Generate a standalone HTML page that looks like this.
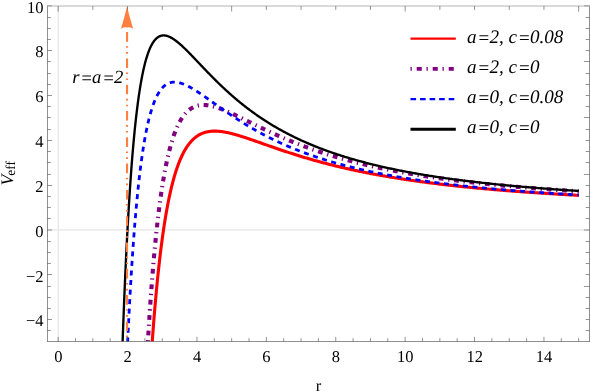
<!DOCTYPE html>
<html><head><meta charset="utf-8"><title>Veff plot</title>
<style>html,body{margin:0;padding:0;background:#fff;overflow:hidden}svg{display:block;will-change:transform}text{font-family:"Liberation Serif",serif;fill:#000;text-rendering:geometricPrecision}</style></head><body>
<svg width="591" height="391" viewBox="0 0 591 391">
<rect width="591" height="391" fill="#fff"/>
<defs><clipPath id="cp"><rect x="47.50" y="6.00" width="542.00" height="335.50"/></clipPath></defs>
<g stroke="#e6e6e6" stroke-width="1.2" fill="none">
<line x1="58.25" y1="6.00" x2="58.25" y2="341.50"/>
<line x1="47.50" y1="229.81" x2="589.50" y2="229.81"/>
</g>
<g clip-path="url(#cp)" fill="none" stroke-linejoin="round">
<path d="M150.06 374.23 L150.16 372.65 L150.26 371.06 L150.36 369.45 L150.46 367.83 L150.57 366.20 L150.67 364.55 L150.78 362.90 L150.89 361.23 L151.00 359.55 L151.11 357.86 L151.23 356.15 L151.34 354.44 L151.46 352.72 L151.58 350.99 L151.70 349.25 L151.82 347.50 L151.94 345.75 L152.07 343.98 L152.19 342.21 L152.32 340.43 L152.45 338.64 L152.58 336.85 L152.72 335.05 L152.85 333.25 L152.99 331.44 L153.12 329.62 L153.26 327.80 L153.40 325.98 L153.54 324.15 L153.69 322.32 L153.83 320.48 L153.98 318.65 L154.13 316.81 L154.28 314.96 L154.43 313.12 L154.59 311.28 L154.74 309.43 L154.90 307.58 L155.06 305.73 L155.22 303.89 L155.38 302.04 L155.54 300.19 L155.71 298.35 L155.87 296.50 L156.04 294.66 L156.21 292.82 L156.38 290.98 L156.56 289.15 L156.73 287.31 L156.91 285.49 L157.09 283.66 L157.27 281.84 L157.45 280.02 L157.63 278.21 L157.82 276.40 L158.00 274.59 L158.19 272.80 L158.38 271.00 L158.57 269.22 L158.77 267.44 L158.96 265.66 L159.16 263.89 L159.36 262.13 L159.56 260.38 L159.76 258.63 L159.96 256.89 L160.17 255.16 L160.37 253.44 L160.58 251.73 L160.79 250.02 L161.00 248.33 L161.22 246.64 L161.43 244.96 L161.65 243.29 L161.87 241.63 L162.09 239.98 L162.31 238.35 L162.54 236.72 L162.76 235.10 L162.99 233.49 L163.22 231.89 L163.45 230.31 L163.68 228.73 L163.92 227.17 L164.15 225.62 L164.39 224.08 L164.63 222.55 L164.87 221.03 L165.12 219.52 L165.36 218.03 L165.61 216.55 L165.86 215.08 L166.11 213.63 L166.36 212.18 L166.61 210.75 L166.87 209.33 L167.13 207.93 L167.38 206.54 L167.65 205.16 L167.91 203.79 L168.17 202.44 L168.44 201.10 L168.71 199.77 L168.98 198.46 L169.25 197.16 L169.52 195.88 L169.80 194.60 L170.07 193.35 L170.35 192.10 L170.63 190.87 L170.91 189.65 L171.20 188.45 L171.48 187.26 L171.77 186.08 L172.06 184.92 L172.35 183.77 L172.65 182.64 L172.94 181.52 L173.24 180.41 L173.54 179.32 L173.84 178.24 L174.14 177.18 L174.44 176.13 L174.75 175.09 L175.06 174.07 L175.37 173.06 L175.68 172.07 L175.99 171.09 L176.30 170.12 L176.62 169.17 L176.94 168.23 L177.26 167.30 L177.58 166.39 L177.91 165.49 L178.23 164.61 L178.56 163.73 L178.89 162.88 L179.22 162.03 L179.56 161.20 L179.89 160.38 L180.23 159.58 L180.57 158.79 L180.91 158.01 L181.25 157.25 L181.59 156.50 L181.94 155.76 L182.29 155.03 L182.64 154.32 L182.99 153.62 L183.34 152.93 L183.70 152.26 L184.06 151.60 L184.42 150.95 L184.78 150.31 L185.14 149.69 L185.51 149.08 L185.87 148.48 L186.24 147.89 L186.61 147.31 L186.98 146.75 L187.36 146.20 L187.74 145.66 L188.11 145.13 L188.49 144.61 L188.88 144.11 L189.26 143.61 L189.65 143.13 L190.03 142.66 L190.42 142.20 L190.81 141.75 L191.21 141.31 L191.60 140.88 L192.00 140.47 L192.40 140.06 L192.80 139.66 L193.20 139.28 L193.61 138.90 L194.01 138.54 L194.42 138.18 L194.83 137.84 L195.24 137.51 L195.66 137.18 L196.07 136.87 L196.49 136.56 L196.91 136.27 L197.34 135.98 L197.76 135.70 L198.18 135.44 L198.61 135.18 L199.04 134.93 L199.47 134.69 L199.91 134.46 L200.34 134.23 L200.78 134.02 L201.22 133.81 L201.66 133.62 L202.10 133.43 L202.55 133.25 L203.00 133.07 L203.44 132.91 L203.90 132.75 L204.35 132.60 L204.80 132.46 L205.26 132.33 L205.72 132.20 L206.18 132.08 L206.64 131.97 L207.11 131.87 L207.57 131.77 L208.04 131.68 L208.51 131.60 L208.98 131.52 L209.46 131.45 L209.94 131.39 L210.41 131.34 L210.89 131.29 L211.38 131.24 L211.86 131.21 L212.35 131.17 L212.83 131.15 L213.32 131.13 L213.82 131.12 L214.31 131.11 L214.81 131.11 L215.30 131.12 L215.80 131.13 L216.31 131.14 L216.81 131.16 L217.32 131.19 L217.82 131.22 L218.33 131.26 L218.85 131.30 L219.36 131.35 L219.88 131.40 L220.39 131.45 L220.91 131.52 L221.43 131.58 L221.96 131.65 L222.48 131.73 L223.01 131.81 L223.54 131.89 L224.07 131.98 L224.61 132.07 L225.14 132.17 L225.68 132.27 L226.22 132.37 L226.76 132.48 L227.31 132.59 L227.85 132.71 L228.40 132.83 L228.95 132.95 L229.50 133.07 L230.05 133.20 L230.61 133.34 L231.17 133.47 L231.73 133.61 L232.29 133.76 L232.85 133.90 L233.42 134.05 L233.99 134.20 L234.56 134.36 L235.13 134.52 L235.70 134.68 L236.28 134.84 L236.86 135.01 L237.44 135.18 L238.02 135.35 L238.60 135.52 L239.19 135.70 L239.78 135.88 L240.37 136.06 L240.96 136.24 L241.55 136.43 L242.15 136.62 L242.75 136.81 L243.35 137.00 L243.95 137.19 L244.56 137.39 L245.16 137.59 L245.77 137.78 L246.38 137.99 L246.99 138.19 L247.61 138.39 L248.22 138.60 L248.84 138.81 L249.46 139.02 L250.09 139.23 L250.71 139.44 L251.34 139.66 L251.97 139.87 L252.60 140.09 L253.23 140.31 L253.87 140.53 L254.50 140.75 L255.14 140.97 L255.78 141.20 L256.43 141.42 L257.07 141.65 L257.72 141.87 L258.37 142.10 L259.02 142.33 L259.68 142.56 L260.33 142.79 L260.99 143.02 L261.65 143.25 L262.31 143.49 L262.98 143.72 L263.64 143.95 L264.31 144.19 L264.98 144.42 L265.65 144.66 L266.33 144.90 L267.00 145.13 L267.68 145.37 L268.36 145.61 L269.05 145.85 L269.73 146.09 L270.42 146.33 L271.11 146.57 L271.80 146.81 L272.49 147.05 L273.19 147.29 L273.88 147.53 L274.58 147.77 L275.28 148.02 L275.99 148.26 L276.69 148.50 L277.40 148.74 L278.11 148.99 L278.82 149.23 L279.54 149.47 L280.25 149.71 L280.97 149.96 L281.69 150.20 L282.41 150.44 L283.14 150.69 L283.87 150.93 L284.59 151.17 L285.33 151.42 L286.06 151.66 L286.79 151.90 L287.53 152.14 L288.27 152.39 L289.01 152.63 L289.75 152.87 L290.50 153.11 L291.25 153.35 L292.00 153.59 L292.75 153.83 L293.50 154.08 L294.26 154.32 L295.02 154.56 L295.78 154.80 L296.54 155.04 L297.31 155.27 L298.07 155.51 L298.84 155.75 L299.61 155.99 L300.39 156.23 L301.16 156.47 L301.94 156.70 L302.72 156.94 L303.50 157.17 L304.28 157.41 L305.07 157.65 L305.86 157.88 L306.65 158.11 L307.44 158.35 L308.24 158.58 L309.03 158.81 L309.83 159.05 L310.63 159.28 L311.44 159.51 L312.24 159.74 L313.05 159.97 L313.86 160.20 L314.67 160.43 L315.48 160.65 L316.30 160.88 L317.12 161.11 L317.94 161.34 L318.76 161.56 L319.58 161.79 L320.41 162.01 L321.24 162.24 L322.07 162.46 L322.90 162.68 L323.74 162.90 L324.58 163.12 L325.42 163.34 L326.26 163.56 L327.10 163.78 L327.95 164.00 L328.80 164.22 L329.65 164.44 L330.50 164.65 L331.35 164.87 L332.21 165.08 L333.07 165.30 L333.93 165.51 L334.79 165.73 L335.66 165.94 L336.53 166.15 L337.40 166.36 L338.27 166.57 L339.14 166.78 L340.02 166.99 L340.90 167.19 L341.78 167.40 L342.66 167.61 L343.55 167.81 L344.43 168.02 L345.32 168.22 L346.21 168.43 L347.11 168.63 L348.00 168.83 L348.90 169.03 L349.80 169.23 L350.70 169.43 L351.61 169.63 L352.52 169.83 L353.43 170.02 L354.34 170.22 L355.25 170.42 L356.17 170.61 L357.08 170.80 L358.00 171.00 L358.93 171.19 L359.85 171.38 L360.78 171.57 L361.70 171.76 L362.64 171.95 L363.57 172.14 L364.50 172.33 L365.44 172.51 L366.38 172.70 L367.32 172.89 L368.27 173.07 L369.21 173.25 L370.16 173.44 L371.11 173.62 L372.07 173.80 L373.02 173.98 L373.98 174.16 L374.94 174.34 L375.90 174.52 L376.86 174.69 L377.83 174.87 L378.80 175.05 L379.77 175.22 L380.74 175.40 L381.71 175.57 L382.69 175.74 L383.67 175.91 L384.65 176.09 L385.64 176.26 L386.62 176.43 L387.61 176.59 L388.60 176.76 L389.59 176.93 L390.59 177.10 L391.59 177.26 L392.58 177.43 L393.59 177.59 L394.59 177.76 L395.60 177.92 L396.60 178.08 L397.61 178.24 L398.63 178.40 L399.64 178.56 L400.66 178.72 L401.68 178.88 L402.70 179.04 L403.72 179.19 L404.75 179.35 L405.78 179.50 L406.81 179.66 L407.84 179.81 L408.88 179.96 L409.91 180.12 L410.95 180.27 L411.99 180.42 L413.04 180.57 L414.08 180.72 L415.13 180.87 L416.18 181.01 L417.23 181.16 L418.29 181.31 L419.35 181.45 L420.41 181.60 L421.47 181.74 L422.53 181.89 L423.60 182.03 L424.67 182.17 L425.74 182.31 L426.81 182.45 L427.89 182.59 L428.96 182.73 L430.04 182.87 L431.12 183.01 L432.21 183.15 L433.29 183.28 L434.38 183.42 L435.47 183.55 L436.57 183.69 L437.66 183.82 L438.76 183.96 L439.86 184.09 L440.96 184.22 L442.07 184.35 L443.17 184.48 L444.28 184.61 L445.39 184.74 L446.51 184.87 L447.62 185.00 L448.74 185.12 L449.86 185.25 L450.98 185.38 L452.11 185.50 L453.24 185.63 L454.36 185.75 L455.50 185.87 L456.63 186.00 L457.77 186.12 L458.90 186.24 L460.04 186.36 L461.19 186.48 L462.33 186.60 L463.48 186.72 L464.63 186.84 L465.78 186.95 L466.94 187.07 L468.09 187.19 L469.25 187.30 L470.41 187.42 L471.58 187.53 L472.74 187.65 L473.91 187.76 L475.08 187.87 L476.25 187.99 L477.43 188.10 L478.60 188.21 L479.78 188.32 L480.96 188.43 L482.15 188.54 L483.33 188.65 L484.52 188.75 L485.71 188.86 L486.91 188.97 L488.10 189.08 L489.30 189.18 L490.50 189.29 L491.70 189.39 L492.91 189.50 L494.11 189.60 L495.32 189.70 L496.53 189.81 L497.75 189.91 L498.96 190.01 L500.18 190.11 L501.40 190.21 L502.62 190.31 L503.85 190.41 L505.08 190.51 L506.31 190.61 L507.54 190.70 L508.77 190.80 L510.01 190.90 L511.25 191.00 L512.49 191.09 L513.73 191.19 L514.98 191.28 L516.22 191.37 L517.48 191.47 L518.73 191.56 L519.98 191.65 L521.24 191.75 L522.50 191.84 L523.76 191.93 L525.03 192.02 L526.29 192.11 L527.56 192.20 L528.83 192.29 L530.10 192.38 L531.38 192.47 L532.66 192.55 L533.94 192.64 L535.22 192.73 L536.51 192.82 L537.79 192.90 L539.08 192.99 L540.38 193.07 L541.67 193.16 L542.97 193.24 L544.26 193.32 L545.57 193.41 L546.87 193.49 L548.18 193.57 L549.48 193.65 L550.79 193.74 L552.11 193.82 L553.42 193.90 L554.74 193.98 L556.06 194.06 L557.38 194.14 L558.71 194.22 L560.03 194.29 L561.36 194.37 L562.69 194.45 L564.03 194.53 L565.36 194.60 L566.70 194.68 L568.04 194.76 L569.38 194.83 L570.73 194.91 L572.08 194.98 L573.43 195.06 L574.78 195.13 L576.13 195.20 L577.49 195.28 L578.85 195.35" stroke="#ff0000" stroke-width="3.1"/>
<path d="M146.05 375.42 L146.10 374.34 L146.16 373.24 L146.22 372.12 L146.28 370.98 L146.34 369.81 L146.40 368.63 L146.47 367.42 L146.53 366.19 L146.60 364.94 L146.67 363.67 L146.74 362.38 L146.81 361.07 L146.88 359.74 L146.95 358.39 L147.03 357.02 L147.11 355.63 L147.18 354.22 L147.26 352.80 L147.34 351.36 L147.43 349.89 L147.51 348.42 L147.60 346.92 L147.68 345.41 L147.77 343.88 L147.86 342.34 L147.95 340.78 L148.05 339.21 L148.14 337.62 L148.24 336.01 L148.34 334.40 L148.43 332.76 L148.54 331.12 L148.64 329.46 L148.74 327.79 L148.85 326.11 L148.95 324.41 L149.06 322.70 L149.17 320.98 L149.28 319.26 L149.39 317.52 L149.51 315.77 L149.63 314.01 L149.74 312.24 L149.86 310.46 L149.98 308.68 L150.10 306.88 L150.23 305.08 L150.35 303.28 L150.48 301.46 L150.61 299.64 L150.74 297.81 L150.87 295.98 L151.00 294.14 L151.14 292.30 L151.28 290.45 L151.41 288.60 L151.55 286.74 L151.69 284.88 L151.84 283.02 L151.98 281.16 L152.13 279.29 L152.28 277.43 L152.42 275.56 L152.58 273.69 L152.73 271.82 L152.88 269.95 L153.04 268.08 L153.20 266.21 L153.35 264.34 L153.52 262.47 L153.68 260.60 L153.84 258.74 L154.01 256.88 L154.17 255.02 L154.34 253.16 L154.51 251.31 L154.69 249.46 L154.86 247.62 L155.04 245.78 L155.21 243.94 L155.39 242.11 L155.57 240.29 L155.76 238.47 L155.94 236.65 L156.12 234.85 L156.31 233.05 L156.50 231.25 L156.69 229.47 L156.88 227.69 L157.08 225.92 L157.27 224.16 L157.47 222.40 L157.67 220.66 L157.87 218.92 L158.07 217.19 L158.28 215.47 L158.48 213.76 L158.69 212.06 L158.90 210.37 L159.11 208.69 L159.33 207.03 L159.54 205.37 L159.76 203.72 L159.98 202.08 L160.19 200.46 L160.42 198.85 L160.64 197.25 L160.86 195.66 L161.09 194.08 L161.32 192.51 L161.55 190.96 L161.78 189.42 L162.02 187.89 L162.25 186.38 L162.49 184.88 L162.73 183.39 L162.97 181.92 L163.21 180.45 L163.45 179.01 L163.70 177.57 L163.95 176.15 L164.20 174.74 L164.45 173.35 L164.70 171.97 L164.96 170.61 L165.21 169.26 L165.47 167.92 L165.73 166.60 L165.99 165.30 L166.26 164.01 L166.52 162.73 L166.79 161.47 L167.06 160.22 L167.33 158.99 L167.60 157.77 L167.88 156.56 L168.15 155.38 L168.43 154.20 L168.71 153.05 L168.99 151.90 L169.28 150.78 L169.56 149.66 L169.85 148.57 L170.14 147.48 L170.43 146.42 L170.72 145.36 L171.01 144.33 L171.31 143.30 L171.61 142.30 L171.91 141.31 L172.21 140.33 L172.51 139.37 L172.82 138.42 L173.13 137.49 L173.43 136.57 L173.75 135.67 L174.06 134.78 L174.37 133.91 L174.69 133.06 L175.01 132.21 L175.33 131.39 L175.65 130.57 L175.97 129.77 L176.30 128.99 L176.62 128.22 L176.95 127.47 L177.28 126.73 L177.62 126.00 L177.95 125.29 L178.29 124.59 L178.63 123.91 L178.97 123.24 L179.31 122.58 L179.65 121.94 L180.00 121.31 L180.35 120.70 L180.70 120.09 L181.05 119.51 L181.40 118.93 L181.76 118.37 L182.11 117.83 L182.47 117.29 L182.83 116.77 L183.20 116.26 L183.56 115.77 L183.93 115.28 L184.29 114.81 L184.66 114.36 L185.04 113.91 L185.41 113.48 L185.79 113.06 L186.16 112.65 L186.54 112.26 L186.93 111.87 L187.31 111.50 L187.69 111.14 L188.08 110.79 L188.47 110.45 L188.86 110.13 L189.26 109.81 L189.65 109.51 L190.05 109.22 L190.45 108.93 L190.85 108.66 L191.25 108.40 L191.65 108.15 L192.06 107.91 L192.47 107.69 L192.88 107.47 L193.29 107.26 L193.70 107.06 L194.12 106.87 L194.54 106.69 L194.96 106.53 L195.38 106.37 L195.80 106.22 L196.23 106.08 L196.66 105.94 L197.09 105.82 L197.52 105.71 L197.95 105.60 L198.39 105.51 L198.82 105.42 L199.26 105.34 L199.70 105.27 L200.15 105.21 L200.59 105.16 L201.04 105.11 L201.49 105.08 L201.94 105.05 L202.39 105.03 L202.84 105.01 L203.30 105.01 L203.76 105.01 L204.22 105.01 L204.68 105.03 L205.15 105.05 L205.61 105.08 L206.08 105.12 L206.55 105.16 L207.02 105.21 L207.50 105.27 L207.98 105.33 L208.45 105.40 L208.93 105.48 L209.42 105.56 L209.90 105.65 L210.39 105.74 L210.87 105.84 L211.36 105.95 L211.86 106.06 L212.35 106.17 L212.85 106.30 L213.34 106.42 L213.84 106.56 L214.35 106.69 L214.85 106.84 L215.36 106.99 L215.86 107.14 L216.37 107.30 L216.89 107.46 L217.40 107.63 L217.92 107.80 L218.43 107.97 L218.95 108.15 L219.48 108.34 L220.00 108.53 L220.52 108.72 L221.05 108.92 L221.58 109.12 L222.11 109.33 L222.65 109.54 L223.18 109.75 L223.72 109.96 L224.26 110.18 L224.80 110.41 L225.35 110.63 L225.89 110.86 L226.44 111.10 L226.99 111.33 L227.54 111.57 L228.10 111.82 L228.65 112.06 L229.21 112.31 L229.77 112.56 L230.33 112.82 L230.90 113.07 L231.46 113.33 L232.03 113.60 L232.60 113.86 L233.17 114.13 L233.75 114.40 L234.32 114.67 L234.90 114.94 L235.48 115.22 L236.07 115.50 L236.65 115.78 L237.24 116.06 L237.82 116.34 L238.42 116.63 L239.01 116.92 L239.60 117.20 L240.20 117.50 L240.80 117.79 L241.40 118.08 L242.00 118.38 L242.61 118.68 L243.21 118.98 L243.82 119.28 L244.43 119.58 L245.05 119.88 L245.66 120.18 L246.28 120.49 L246.90 120.80 L247.52 121.10 L248.14 121.41 L248.77 121.72 L249.39 122.03 L250.02 122.34 L250.65 122.66 L251.29 122.97 L251.92 123.28 L252.56 123.60 L253.20 123.91 L253.84 124.23 L254.49 124.55 L255.13 124.86 L255.78 125.18 L256.43 125.50 L257.08 125.82 L257.74 126.14 L258.39 126.46 L259.05 126.78 L259.71 127.10 L260.38 127.42 L261.04 127.74 L261.71 128.06 L262.38 128.38 L263.05 128.70 L263.72 129.03 L264.39 129.35 L265.07 129.67 L265.75 129.99 L266.43 130.31 L267.12 130.64 L267.80 130.96 L268.49 131.28 L269.18 131.60 L269.87 131.92 L270.56 132.25 L271.26 132.57 L271.96 132.89 L272.66 133.21 L273.36 133.53 L274.06 133.85 L274.77 134.17 L275.48 134.49 L276.19 134.81 L276.90 135.13 L277.62 135.45 L278.33 135.77 L279.05 136.09 L279.77 136.40 L280.50 136.72 L281.22 137.04 L281.95 137.35 L282.68 137.67 L283.41 137.99 L284.15 138.30 L284.88 138.62 L285.62 138.93 L286.36 139.24 L287.10 139.55 L287.85 139.87 L288.59 140.18 L289.34 140.49 L290.09 140.80 L290.85 141.11 L291.60 141.42 L292.36 141.72 L293.12 142.03 L293.88 142.34 L294.64 142.64 L295.41 142.95 L296.18 143.25 L296.95 143.56 L297.72 143.86 L298.49 144.16 L299.27 144.46 L300.05 144.76 L300.83 145.06 L301.61 145.36 L302.40 145.66 L303.18 145.95 L303.97 146.25 L304.76 146.55 L305.56 146.84 L306.35 147.13 L307.15 147.43 L307.95 147.72 L308.75 148.01 L309.56 148.30 L310.36 148.59 L311.17 148.87 L311.98 149.16 L312.79 149.45 L313.61 149.73 L314.43 150.02 L315.24 150.30 L316.07 150.58 L316.89 150.86 L317.72 151.14 L318.54 151.42 L319.37 151.70 L320.20 151.98 L321.04 152.25 L321.88 152.53 L322.71 152.80 L323.56 153.07 L324.40 153.35 L325.24 153.62 L326.09 153.89 L326.94 154.16 L327.79 154.42 L328.65 154.69 L329.50 154.96 L330.36 155.22 L331.22 155.49 L332.08 155.75 L332.95 156.01 L333.81 156.27 L334.68 156.53 L335.55 156.79 L336.43 157.05 L337.30 157.30 L338.18 157.56 L339.06 157.81 L339.94 158.06 L340.83 158.32 L341.71 158.57 L342.60 158.82 L343.49 159.07 L344.39 159.32 L345.28 159.56 L346.18 159.81 L347.08 160.05 L347.98 160.30 L348.88 160.54 L349.79 160.78 L350.70 161.02 L351.61 161.26 L352.52 161.50 L353.43 161.74 L354.35 161.97 L355.27 162.21 L356.19 162.44 L357.12 162.67 L358.04 162.91 L358.97 163.14 L359.90 163.37 L360.83 163.60 L361.77 163.82 L362.70 164.05 L363.64 164.28 L364.58 164.50 L365.53 164.73 L366.47 164.95 L367.42 165.17 L368.37 165.39 L369.32 165.61 L370.28 165.83 L371.23 166.05 L372.19 166.26 L373.15 166.48 L374.12 166.69 L375.08 166.90 L376.05 167.12 L377.02 167.33 L377.99 167.54 L378.97 167.75 L379.94 167.96 L380.92 168.16 L381.90 168.37 L382.89 168.57 L383.87 168.78 L384.86 168.98 L385.85 169.18 L386.84 169.38 L387.84 169.58 L388.83 169.78 L389.83 169.98 L390.83 170.18 L391.84 170.37 L392.84 170.57 L393.85 170.76 L394.86 170.96 L395.87 171.15 L396.89 171.34 L397.90 171.53 L398.92 171.72 L399.94 171.91 L400.97 172.10 L401.99 172.28 L403.02 172.47 L404.05 172.65 L405.08 172.84 L406.12 173.02 L407.15 173.20 L408.19 173.38 L409.23 173.56 L410.28 173.74 L411.32 173.92 L412.37 174.10 L413.42 174.27 L414.47 174.45 L415.53 174.62 L416.59 174.80 L417.64 174.97 L418.71 175.14 L419.77 175.31 L420.84 175.48 L421.90 175.65 L422.97 175.82 L424.05 175.99 L425.12 176.15 L426.20 176.32 L427.28 176.48 L428.36 176.65 L429.44 176.81 L430.53 176.97 L431.62 177.13 L432.71 177.29 L433.80 177.45 L434.90 177.61 L436.00 177.77 L437.10 177.93 L438.20 178.08 L439.30 178.24 L440.41 178.39 L441.52 178.55 L442.63 178.70 L443.74 178.85 L444.86 179.00 L445.98 179.15 L447.10 179.30 L448.22 179.45 L449.34 179.60 L450.47 179.75 L451.60 179.89 L452.73 180.04 L453.86 180.18 L455.00 180.33 L456.14 180.47 L457.28 180.61 L458.42 180.76 L459.57 180.90 L460.72 181.04 L461.86 181.18 L463.02 181.32 L464.17 181.45 L465.33 181.59 L466.49 181.73 L467.65 181.86 L468.81 182.00 L469.98 182.13 L471.14 182.27 L472.32 182.40 L473.49 182.53 L474.66 182.66 L475.84 182.79 L477.02 182.92 L478.20 183.05 L479.38 183.18 L480.57 183.31 L481.76 183.44 L482.95 183.56 L484.14 183.69 L485.34 183.81 L486.54 183.94 L487.74 184.06 L488.94 184.19 L490.14 184.31 L491.35 184.43 L492.56 184.55 L493.77 184.67 L494.99 184.79 L496.20 184.91 L497.42 185.03 L498.64 185.15 L499.86 185.26 L501.09 185.38 L502.32 185.50 L503.55 185.61 L504.78 185.73 L506.01 185.84 L507.25 185.95 L508.49 186.07 L509.73 186.18 L510.97 186.29 L512.22 186.40 L513.47 186.51 L514.72 186.62 L515.97 186.73 L517.23 186.84 L518.49 186.95 L519.75 187.05 L521.01 187.16 L522.27 187.27 L523.54 187.37 L524.81 187.48 L526.08 187.58 L527.35 187.68 L528.63 187.79 L529.91 187.89 L531.19 187.99 L532.47 188.09 L533.76 188.19 L535.05 188.29 L536.34 188.39 L537.63 188.49 L538.92 188.59 L540.22 188.69 L541.52 188.79 L542.82 188.89 L544.13 188.98 L545.43 189.08 L546.74 189.17 L548.05 189.27 L549.37 189.36 L550.68 189.46 L552.00 189.55 L553.32 189.64 L554.64 189.74 L555.97 189.83 L557.29 189.92 L558.62 190.01 L559.96 190.10 L561.29 190.19 L562.63 190.28 L563.97 190.37 L565.31 190.46 L566.65 190.54 L568.00 190.63 L569.35 190.72 L570.70 190.80 L572.05 190.89 L573.40 190.98 L574.76 191.06 L576.12 191.15 L577.49 191.23 L578.85 191.31" stroke="#800080" stroke-width="4.1" stroke-dasharray="1.3 4.7 4.8 4.69" stroke-dashoffset="12.44"/>
<path d="M126.22 374.32 L126.30 372.43 L126.38 370.51 L126.46 368.57 L126.55 366.61 L126.63 364.62 L126.72 362.61 L126.81 360.58 L126.90 358.53 L126.99 356.45 L127.08 354.36 L127.18 352.25 L127.27 350.12 L127.37 347.97 L127.47 345.80 L127.57 343.62 L127.67 341.42 L127.77 339.20 L127.88 336.97 L127.99 334.72 L128.10 332.46 L128.21 330.18 L128.32 327.90 L128.43 325.60 L128.55 323.28 L128.66 320.96 L128.78 318.63 L128.90 316.28 L129.02 313.93 L129.15 311.57 L129.27 309.19 L129.40 306.82 L129.52 304.43 L129.65 302.04 L129.79 299.64 L129.92 297.24 L130.05 294.83 L130.19 292.42 L130.33 290.01 L130.47 287.59 L130.61 285.17 L130.75 282.75 L130.90 280.33 L131.04 277.91 L131.19 275.49 L131.34 273.06 L131.49 270.64 L131.64 268.23 L131.80 265.81 L131.96 263.40 L132.11 260.99 L132.27 258.58 L132.44 256.18 L132.60 253.78 L132.76 251.39 L132.93 249.01 L133.10 246.63 L133.27 244.26 L133.44 241.90 L133.61 239.54 L133.79 237.19 L133.97 234.86 L134.15 232.53 L134.33 230.21 L134.51 227.90 L134.69 225.60 L134.88 223.32 L135.07 221.04 L135.26 218.78 L135.45 216.53 L135.64 214.29 L135.83 212.07 L136.03 209.86 L136.23 207.66 L136.43 205.48 L136.63 203.31 L136.83 201.16 L137.04 199.02 L137.25 196.90 L137.45 194.80 L137.66 192.71 L137.88 190.63 L138.09 188.58 L138.31 186.54 L138.52 184.52 L138.74 182.51 L138.97 180.53 L139.19 178.56 L139.41 176.61 L139.64 174.68 L139.87 172.77 L140.10 170.87 L140.33 169.00 L140.57 167.15 L140.80 165.31 L141.04 163.50 L141.28 161.70 L141.52 159.93 L141.76 158.17 L142.01 156.44 L142.25 154.72 L142.50 153.03 L142.75 151.36 L143.01 149.70 L143.26 148.07 L143.52 146.46 L143.77 144.87 L144.03 143.31 L144.29 141.76 L144.56 140.23 L144.82 138.73 L145.09 137.25 L145.36 135.79 L145.63 134.35 L145.90 132.93 L146.18 131.53 L146.45 130.16 L146.73 128.80 L147.01 127.47 L147.29 126.16 L147.58 124.87 L147.86 123.60 L148.15 122.36 L148.44 121.13 L148.73 119.93 L149.02 118.75 L149.32 117.59 L149.62 116.45 L149.92 115.33 L150.22 114.23 L150.52 113.15 L150.82 112.10 L151.13 111.06 L151.44 110.05 L151.75 109.06 L152.06 108.08 L152.38 107.13 L152.69 106.20 L153.01 105.29 L153.33 104.40 L153.65 103.52 L153.97 102.67 L154.30 101.84 L154.63 101.03 L154.96 100.24 L155.29 99.46 L155.62 98.71 L155.96 97.98 L156.29 97.26 L156.63 96.56 L156.97 95.89 L157.32 95.23 L157.66 94.59 L158.01 93.96 L158.36 93.36 L158.71 92.77 L159.06 92.21 L159.42 91.65 L159.77 91.12 L160.13 90.61 L160.49 90.11 L160.85 89.63 L161.22 89.16 L161.58 88.71 L161.95 88.28 L162.32 87.87 L162.70 87.47 L163.07 87.08 L163.45 86.72 L163.82 86.36 L164.20 86.03 L164.59 85.71 L164.97 85.40 L165.36 85.11 L165.74 84.83 L166.13 84.57 L166.53 84.33 L166.92 84.09 L167.32 83.87 L167.71 83.67 L168.11 83.48 L168.52 83.30 L168.92 83.14 L169.33 82.98 L169.73 82.85 L170.14 82.72 L170.55 82.61 L170.97 82.51 L171.38 82.42 L171.80 82.34 L172.22 82.28 L172.64 82.23 L173.07 82.19 L173.49 82.16 L173.92 82.14 L174.35 82.13 L174.78 82.14 L175.22 82.15 L175.65 82.17 L176.09 82.21 L176.53 82.26 L176.97 82.31 L177.42 82.38 L177.86 82.45 L178.31 82.54 L178.76 82.63 L179.21 82.73 L179.67 82.85 L180.12 82.97 L180.58 83.10 L181.04 83.24 L181.50 83.38 L181.97 83.54 L182.43 83.70 L182.90 83.87 L183.37 84.05 L183.85 84.24 L184.32 84.43 L184.80 84.63 L185.27 84.84 L185.76 85.06 L186.24 85.28 L186.72 85.51 L187.21 85.75 L187.70 85.99 L188.19 86.24 L188.68 86.50 L189.18 86.76 L189.67 87.02 L190.17 87.30 L190.67 87.58 L191.18 87.86 L191.68 88.15 L192.19 88.45 L192.70 88.75 L193.21 89.05 L193.73 89.36 L194.24 89.68 L194.76 90.00 L195.28 90.32 L195.80 90.65 L196.32 90.99 L196.85 91.32 L197.38 91.67 L197.91 92.01 L198.44 92.36 L198.98 92.72 L199.51 93.07 L200.05 93.43 L200.59 93.80 L201.13 94.17 L201.68 94.54 L202.23 94.91 L202.77 95.29 L203.33 95.67 L203.88 96.05 L204.43 96.44 L204.99 96.83 L205.55 97.22 L206.11 97.61 L206.68 98.01 L207.24 98.41 L207.81 98.81 L208.38 99.21 L208.95 99.62 L209.53 100.03 L210.10 100.44 L210.68 100.85 L211.26 101.26 L211.84 101.68 L212.43 102.09 L213.02 102.51 L213.60 102.93 L214.20 103.35 L214.79 103.77 L215.38 104.20 L215.98 104.62 L216.58 105.05 L217.18 105.48 L217.79 105.90 L218.39 106.33 L219.00 106.76 L219.61 107.19 L220.22 107.63 L220.84 108.06 L221.46 108.49 L222.07 108.92 L222.70 109.36 L223.32 109.79 L223.94 110.23 L224.57 110.66 L225.20 111.10 L225.83 111.54 L226.47 111.97 L227.10 112.41 L227.74 112.84 L228.38 113.28 L229.02 113.72 L229.67 114.15 L230.31 114.59 L230.96 115.03 L231.61 115.46 L232.27 115.90 L232.92 116.34 L233.58 116.77 L234.24 117.21 L234.90 117.64 L235.57 118.08 L236.23 118.51 L236.90 118.95 L237.57 119.38 L238.24 119.81 L238.92 120.24 L239.59 120.68 L240.27 121.11 L240.96 121.54 L241.64 121.97 L242.32 122.40 L243.01 122.82 L243.70 123.25 L244.39 123.68 L245.09 124.10 L245.79 124.53 L246.48 124.95 L247.18 125.38 L247.89 125.80 L248.59 126.22 L249.30 126.64 L250.01 127.06 L250.72 127.48 L251.44 127.89 L252.15 128.31 L252.87 128.73 L253.59 129.14 L254.31 129.55 L255.04 129.97 L255.77 130.38 L256.50 130.79 L257.23 131.19 L257.96 131.60 L258.70 132.01 L259.43 132.41 L260.18 132.81 L260.92 133.22 L261.66 133.62 L262.41 134.02 L263.16 134.41 L263.91 134.81 L264.66 135.21 L265.42 135.60 L266.18 135.99 L266.94 136.39 L267.70 136.78 L268.46 137.16 L269.23 137.55 L270.00 137.94 L270.77 138.32 L271.55 138.70 L272.32 139.09 L273.10 139.47 L273.88 139.84 L274.66 140.22 L275.45 140.60 L276.23 140.97 L277.02 141.34 L277.81 141.71 L278.61 142.08 L279.40 142.45 L280.20 142.82 L281.00 143.18 L281.80 143.55 L282.61 143.91 L283.41 144.27 L284.22 144.63 L285.03 144.99 L285.85 145.34 L286.66 145.70 L287.48 146.05 L288.30 146.40 L289.13 146.75 L289.95 147.10 L290.78 147.44 L291.61 147.79 L292.44 148.13 L293.27 148.47 L294.11 148.81 L294.95 149.15 L295.79 149.49 L296.63 149.82 L297.47 150.16 L298.32 150.49 L299.17 150.82 L300.02 151.15 L300.88 151.48 L301.73 151.80 L302.59 152.13 L303.45 152.45 L304.32 152.77 L305.18 153.09 L306.05 153.41 L306.92 153.73 L307.79 154.04 L308.66 154.36 L309.54 154.67 L310.42 154.98 L311.30 155.29 L312.18 155.59 L313.07 155.90 L313.96 156.20 L314.85 156.51 L315.74 156.81 L316.64 157.11 L317.53 157.40 L318.43 157.70 L319.33 158.00 L320.24 158.29 L321.14 158.58 L322.05 158.87 L322.96 159.16 L323.88 159.45 L324.79 159.73 L325.71 160.02 L326.63 160.30 L327.55 160.58 L328.47 160.86 L329.40 161.14 L330.33 161.42 L331.26 161.69 L332.19 161.97 L333.13 162.24 L334.07 162.51 L335.01 162.78 L335.95 163.05 L336.90 163.31 L337.84 163.58 L338.79 163.84 L339.75 164.10 L340.70 164.36 L341.66 164.62 L342.62 164.88 L343.58 165.14 L344.54 165.39 L345.51 165.65 L346.47 165.90 L347.44 166.15 L348.42 166.40 L349.39 166.65 L350.37 166.89 L351.35 167.14 L352.33 167.38 L353.31 167.62 L354.30 167.86 L355.29 168.10 L356.28 168.34 L357.27 168.58 L358.27 168.82 L359.27 169.05 L360.27 169.28 L361.27 169.51 L362.27 169.74 L363.28 169.97 L364.29 170.20 L365.30 170.43 L366.32 170.65 L367.33 170.88 L368.35 171.10 L369.37 171.32 L370.40 171.54 L371.42 171.76 L372.45 171.98 L373.48 172.19 L374.51 172.41 L375.55 172.62 L376.59 172.83 L377.63 173.05 L378.67 173.26 L379.71 173.46 L380.76 173.67 L381.81 173.88 L382.86 174.08 L383.91 174.29 L384.97 174.49 L386.03 174.69 L387.09 174.89 L388.15 175.09 L389.22 175.29 L390.29 175.49 L391.36 175.68 L392.43 175.88 L393.50 176.07 L394.58 176.26 L395.66 176.45 L396.74 176.64 L397.83 176.83 L398.91 177.02 L400.00 177.21 L401.09 177.39 L402.19 177.58 L403.28 177.76 L404.38 177.94 L405.48 178.13 L406.58 178.31 L407.69 178.49 L408.80 178.66 L409.91 178.84 L411.02 179.02 L412.13 179.19 L413.25 179.36 L414.37 179.54 L415.49 179.71 L416.62 179.88 L417.74 180.05 L418.87 180.22 L420.00 180.39 L421.14 180.55 L422.27 180.72 L423.41 180.88 L424.55 181.05 L425.70 181.21 L426.84 181.37 L427.99 181.53 L429.14 181.69 L430.29 181.85 L431.45 182.01 L432.60 182.17 L433.76 182.32 L434.93 182.48 L436.09 182.63 L437.26 182.79 L438.43 182.94 L439.60 183.09 L440.77 183.24 L441.95 183.39 L443.13 183.54 L444.31 183.69 L445.49 183.83 L446.68 183.98 L447.87 184.12 L449.06 184.27 L450.25 184.41 L451.44 184.56 L452.64 184.70 L453.84 184.84 L455.04 184.98 L456.25 185.12 L457.46 185.26 L458.67 185.39 L459.88 185.53 L461.09 185.67 L462.31 185.80 L463.53 185.93 L464.75 186.07 L465.98 186.20 L467.20 186.33 L468.43 186.46 L469.66 186.59 L470.90 186.72 L472.13 186.85 L473.37 186.98 L474.61 187.11 L475.85 187.23 L477.10 187.36 L478.35 187.48 L479.60 187.61 L480.85 187.73 L482.11 187.85 L483.36 187.98 L484.62 188.10 L485.89 188.22 L487.15 188.34 L488.42 188.46 L489.69 188.57 L490.96 188.69 L492.23 188.81 L493.51 188.92 L494.79 189.04 L496.07 189.16 L497.36 189.27 L498.64 189.38 L499.93 189.50 L501.22 189.61 L502.52 189.72 L503.81 189.83 L505.11 189.94 L506.41 190.05 L507.72 190.16 L509.02 190.26 L510.33 190.37 L511.64 190.48 L512.96 190.59 L514.27 190.69 L515.59 190.80 L516.91 190.90 L518.23 191.00 L519.56 191.11 L520.89 191.21 L522.22 191.31 L523.55 191.41 L524.88 191.51 L526.22 191.61 L527.56 191.71 L528.90 191.81 L530.25 191.91 L531.59 192.00 L532.94 192.10 L534.30 192.20 L535.65 192.29 L537.01 192.39 L538.37 192.48 L539.73 192.58 L541.09 192.67 L542.46 192.76 L543.83 192.86 L545.20 192.95 L546.57 193.04 L547.95 193.13 L549.33 193.22 L550.71 193.31 L552.09 193.40 L553.48 193.49 L554.87 193.58 L556.26 193.66 L557.65 193.75 L559.05 193.84 L560.45 193.92 L561.85 194.01 L563.25 194.09 L564.66 194.18 L566.07 194.26 L567.48 194.34 L568.89 194.43 L570.31 194.51 L571.72 194.59 L573.14 194.67 L574.57 194.75 L575.99 194.83 L577.42 194.91 L578.85 194.99" stroke="#0000ff" stroke-width="2.8" stroke-dasharray="5.0 4.57" stroke-dashoffset="6.29"/>
<path d="M121.54 373.22 L121.63 370.48 L121.72 367.71 L121.81 364.93 L121.91 362.11 L122.00 359.27 L122.10 356.41 L122.20 353.53 L122.30 350.62 L122.40 347.70 L122.50 344.76 L122.61 341.79 L122.72 338.81 L122.82 335.81 L122.93 332.80 L123.05 329.77 L123.16 326.72 L123.27 323.66 L123.39 320.59 L123.51 317.51 L123.63 314.42 L123.75 311.31 L123.87 308.20 L124.00 305.08 L124.12 301.95 L124.25 298.81 L124.38 295.67 L124.51 292.52 L124.64 289.37 L124.78 286.22 L124.91 283.06 L125.05 279.91 L125.19 276.75 L125.33 273.59 L125.48 270.43 L125.62 267.28 L125.77 264.12 L125.91 260.97 L126.06 257.83 L126.22 254.69 L126.37 251.55 L126.52 248.42 L126.68 245.30 L126.84 242.19 L127.00 239.08 L127.16 235.99 L127.32 232.90 L127.49 229.83 L127.66 226.77 L127.82 223.72 L128.00 220.68 L128.17 217.65 L128.34 214.64 L128.52 211.65 L128.69 208.67 L128.87 205.70 L129.05 202.75 L129.24 199.82 L129.42 196.91 L129.61 194.02 L129.80 191.14 L129.98 188.29 L130.18 185.45 L130.37 182.63 L130.56 179.84 L130.76 177.06 L130.96 174.31 L131.16 171.58 L131.36 168.88 L131.57 166.19 L131.77 163.53 L131.98 160.89 L132.19 158.28 L132.40 155.69 L132.61 153.13 L132.83 150.59 L133.04 148.08 L133.26 145.60 L133.48 143.14 L133.71 140.71 L133.93 138.30 L134.15 135.92 L134.38 133.57 L134.61 131.25 L134.84 128.95 L135.08 126.68 L135.31 124.44 L135.55 122.23 L135.79 120.05 L136.03 117.89 L136.27 115.77 L136.51 113.67 L136.76 111.61 L137.01 109.57 L137.26 107.56 L137.51 105.58 L137.76 103.63 L138.01 101.71 L138.27 99.82 L138.53 97.96 L138.79 96.13 L139.05 94.33 L139.32 92.56 L139.58 90.82 L139.85 89.11 L140.12 87.42 L140.40 85.77 L140.67 84.15 L140.94 82.56 L141.22 80.99 L141.50 79.46 L141.78 77.96 L142.07 76.48 L142.35 75.04 L142.64 73.62 L142.93 72.23 L143.22 70.87 L143.51 69.55 L143.81 68.25 L144.10 66.97 L144.40 65.73 L144.70 64.52 L145.00 63.33 L145.31 62.17 L145.61 61.04 L145.92 59.94 L146.23 58.86 L146.54 57.81 L146.86 56.79 L147.17 55.80 L147.49 54.83 L147.81 53.89 L148.13 52.98 L148.46 52.09 L148.78 51.23 L149.11 50.40 L149.44 49.59 L149.77 48.80 L150.10 48.04 L150.44 47.31 L150.78 46.60 L151.11 45.91 L151.46 45.25 L151.80 44.62 L152.14 44.00 L152.49 43.42 L152.84 42.85 L153.19 42.31 L153.54 41.79 L153.90 41.29 L154.25 40.81 L154.61 40.36 L154.97 39.93 L155.34 39.52 L155.70 39.13 L156.07 38.76 L156.44 38.42 L156.81 38.09 L157.18 37.78 L157.55 37.50 L157.93 37.23 L158.31 36.99 L158.69 36.76 L159.07 36.55 L159.46 36.36 L159.84 36.19 L160.23 36.04 L160.62 35.90 L161.01 35.78 L161.41 35.68 L161.80 35.60 L162.20 35.54 L162.60 35.49 L163.01 35.45 L163.41 35.44 L163.82 35.44 L164.23 35.45 L164.64 35.48 L165.05 35.53 L165.46 35.59 L165.88 35.66 L166.30 35.75 L166.72 35.85 L167.14 35.97 L167.57 36.10 L167.99 36.24 L168.42 36.40 L168.85 36.57 L169.28 36.75 L169.72 36.95 L170.16 37.16 L170.60 37.38 L171.04 37.61 L171.48 37.85 L171.92 38.11 L172.37 38.37 L172.82 38.65 L173.27 38.93 L173.72 39.23 L174.18 39.54 L174.64 39.86 L175.10 40.18 L175.56 40.52 L176.02 40.87 L176.49 41.22 L176.95 41.59 L177.42 41.96 L177.90 42.34 L178.37 42.73 L178.84 43.13 L179.32 43.53 L179.80 43.95 L180.28 44.37 L180.77 44.80 L181.25 45.23 L181.74 45.68 L182.23 46.13 L182.73 46.58 L183.22 47.05 L183.72 47.52 L184.21 47.99 L184.72 48.48 L185.22 48.96 L185.72 49.46 L186.23 49.96 L186.74 50.46 L187.25 50.97 L187.76 51.48 L188.28 52.00 L188.80 52.53 L189.32 53.05 L189.84 53.59 L190.36 54.13 L190.89 54.67 L191.41 55.21 L191.94 55.76 L192.48 56.31 L193.01 56.87 L193.55 57.43 L194.08 58.00 L194.63 58.56 L195.17 59.13 L195.71 59.70 L196.26 60.28 L196.81 60.86 L197.36 61.44 L197.91 62.02 L198.47 62.61 L199.03 63.20 L199.58 63.79 L200.15 64.38 L200.71 64.97 L201.28 65.57 L201.84 66.17 L202.41 66.77 L202.99 67.37 L203.56 67.97 L204.14 68.58 L204.72 69.18 L205.30 69.79 L205.88 70.39 L206.47 71.00 L207.05 71.61 L207.64 72.22 L208.23 72.83 L208.83 73.44 L209.42 74.05 L210.02 74.67 L210.62 75.28 L211.22 75.89 L211.83 76.51 L212.43 77.12 L213.04 77.73 L213.65 78.35 L214.27 78.96 L214.88 79.57 L215.50 80.19 L216.12 80.80 L216.74 81.41 L217.36 82.03 L217.99 82.64 L218.62 83.25 L219.25 83.86 L219.88 84.47 L220.51 85.08 L221.15 85.69 L221.79 86.30 L222.43 86.91 L223.07 87.51 L223.72 88.12 L224.37 88.72 L225.02 89.33 L225.67 89.93 L226.32 90.53 L226.98 91.13 L227.64 91.73 L228.30 92.33 L228.96 92.93 L229.63 93.52 L230.29 94.12 L230.96 94.71 L231.63 95.30 L232.31 95.89 L232.98 96.48 L233.66 97.07 L234.34 97.65 L235.03 98.23 L235.71 98.82 L236.40 99.40 L237.09 99.98 L237.78 100.55 L238.47 101.13 L239.17 101.70 L239.86 102.28 L240.56 102.85 L241.27 103.41 L241.97 103.98 L242.68 104.54 L243.39 105.11 L244.10 105.67 L244.81 106.23 L245.53 106.78 L246.24 107.34 L246.96 107.89 L247.69 108.44 L248.41 108.99 L249.14 109.54 L249.87 110.08 L250.60 110.63 L251.33 111.17 L252.07 111.71 L252.80 112.24 L253.54 112.78 L254.29 113.31 L255.03 113.84 L255.78 114.37 L256.53 114.89 L257.28 115.42 L258.03 115.94 L258.79 116.46 L259.54 116.97 L260.30 117.49 L261.07 118.00 L261.83 118.51 L262.60 119.02 L263.37 119.53 L264.14 120.03 L264.91 120.53 L265.69 121.03 L266.46 121.53 L267.24 122.02 L268.03 122.51 L268.81 123.00 L269.60 123.49 L270.39 123.98 L271.18 124.46 L271.97 124.94 L272.77 125.42 L273.57 125.89 L274.37 126.37 L275.17 126.84 L275.97 127.31 L276.78 127.77 L277.59 128.24 L278.40 128.70 L279.22 129.16 L280.03 129.62 L280.85 130.07 L281.67 130.53 L282.49 130.98 L283.32 131.43 L284.15 131.87 L284.98 132.32 L285.81 132.76 L286.64 133.20 L287.48 133.63 L288.32 134.07 L289.16 134.50 L290.00 134.93 L290.85 135.36 L291.70 135.78 L292.55 136.21 L293.40 136.63 L294.25 137.05 L295.11 137.46 L295.97 137.88 L296.83 138.29 L297.69 138.70 L298.56 139.11 L299.43 139.51 L300.30 139.91 L301.17 140.32 L302.05 140.71 L302.92 141.11 L303.80 141.50 L304.69 141.90 L305.57 142.29 L306.46 142.67 L307.35 143.06 L308.24 143.44 L309.13 143.82 L310.03 144.20 L310.92 144.58 L311.83 144.95 L312.73 145.33 L313.63 145.70 L314.54 146.07 L315.45 146.43 L316.36 146.80 L317.28 147.16 L318.19 147.52 L319.11 147.88 L320.03 148.23 L320.96 148.59 L321.88 148.94 L322.81 149.29 L323.74 149.64 L324.67 149.98 L325.61 150.32 L326.54 150.67 L327.48 151.01 L328.43 151.34 L329.37 151.68 L330.32 152.01 L331.27 152.34 L332.22 152.67 L333.17 153.00 L334.13 153.33 L335.08 153.65 L336.05 153.97 L337.01 154.29 L337.97 154.61 L338.94 154.93 L339.91 155.24 L340.88 155.55 L341.86 155.87 L342.83 156.17 L343.81 156.48 L344.79 156.79 L345.78 157.09 L346.76 157.39 L347.75 157.69 L348.74 157.99 L349.74 158.28 L350.73 158.58 L351.73 158.87 L352.73 159.16 L353.73 159.45 L354.74 159.74 L355.74 160.02 L356.75 160.31 L357.76 160.59 L358.78 160.87 L359.79 161.15 L360.81 161.42 L361.83 161.70 L362.86 161.97 L363.88 162.24 L364.91 162.51 L365.94 162.78 L366.97 163.05 L368.01 163.31 L369.05 163.58 L370.09 163.84 L371.13 164.10 L372.17 164.36 L373.22 164.61 L374.27 164.87 L375.32 165.12 L376.38 165.37 L377.43 165.62 L378.49 165.87 L379.55 166.12 L380.62 166.37 L381.68 166.61 L382.75 166.85 L383.82 167.10 L384.89 167.34 L385.97 167.57 L387.05 167.81 L388.13 168.05 L389.21 168.28 L390.29 168.51 L391.38 168.75 L392.47 168.97 L393.56 169.20 L394.66 169.43 L395.75 169.66 L396.85 169.88 L397.95 170.10 L399.06 170.32 L400.16 170.54 L401.27 170.76 L402.38 170.98 L403.50 171.19 L404.61 171.41 L405.73 171.62 L406.85 171.83 L407.97 172.04 L409.10 172.25 L410.23 172.46 L411.36 172.67 L412.49 172.87 L413.62 173.08 L414.76 173.28 L415.90 173.48 L417.04 173.68 L418.18 173.88 L419.33 174.08 L420.48 174.27 L421.63 174.47 L422.79 174.66 L423.94 174.86 L425.10 175.05 L426.26 175.24 L427.42 175.43 L428.59 175.61 L429.76 175.80 L430.93 175.99 L432.10 176.17 L433.28 176.35 L434.46 176.54 L435.64 176.72 L436.82 176.90 L438.00 177.08 L439.19 177.25 L440.38 177.43 L441.57 177.60 L442.77 177.78 L443.96 177.95 L445.16 178.12 L446.37 178.29 L447.57 178.46 L448.78 178.63 L449.99 178.80 L451.20 178.97 L452.41 179.13 L453.63 179.30 L454.85 179.46 L456.07 179.62 L457.29 179.79 L458.52 179.95 L459.74 180.11 L460.98 180.26 L462.21 180.42 L463.44 180.58 L464.68 180.73 L465.92 180.89 L467.17 181.04 L468.41 181.19 L469.66 181.35 L470.91 181.50 L472.16 181.65 L473.42 181.80 L474.67 181.94 L475.93 182.09 L477.20 182.24 L478.46 182.38 L479.73 182.53 L481.00 182.67 L482.27 182.81 L483.54 182.95 L484.82 183.09 L486.10 183.23 L487.38 183.37 L488.67 183.51 L489.95 183.65 L491.24 183.78 L492.53 183.92 L493.83 184.05 L495.12 184.19 L496.42 184.32 L497.72 184.45 L499.03 184.58 L500.33 184.72 L501.64 184.84 L502.95 184.97 L504.27 185.10 L505.58 185.23 L506.90 185.36 L508.22 185.48 L509.55 185.61 L510.87 185.73 L512.20 185.85 L513.53 185.98 L514.86 186.10 L516.20 186.22 L517.54 186.34 L518.88 186.46 L520.22 186.58 L521.57 186.70 L522.91 186.81 L524.26 186.93 L525.62 187.05 L526.97 187.16 L528.33 187.28 L529.69 187.39 L531.05 187.50 L532.42 187.61 L533.79 187.73 L535.16 187.84 L536.53 187.95 L537.90 188.06 L539.28 188.17 L540.66 188.27 L542.04 188.38 L543.43 188.49 L544.81 188.60 L546.20 188.70 L547.60 188.81 L548.99 188.91 L550.39 189.01 L551.79 189.12 L553.19 189.22 L554.59 189.32 L556.00 189.42 L557.41 189.52 L558.82 189.62 L560.24 189.72 L561.65 189.82 L563.07 189.92 L564.50 190.02 L565.92 190.11 L567.35 190.21 L568.78 190.31 L570.21 190.40 L571.64 190.49 L573.08 190.59 L574.52 190.68 L575.96 190.77 L577.40 190.87 L578.85 190.96" stroke="#000000" stroke-width="2.35"/>
</g>
<g><path d="M127.05 32.1 L127.05 341.5" stroke="#ff7f40" stroke-width="2.1" fill="none" stroke-dasharray="9.6 4.5 1.6 4.3 1.6 4.7" stroke-dashoffset="0.00"/>
<path d="M127.05 6.3 Q124.85 16 120.95 28.7 Q124.05 27.0 127.05 27.4 Q130.05 27.0 133.15 28.7 Q129.25 16 127.05 6.3Z" fill="#ff7f40"/></g>
<g stroke="#444444" stroke-width="0.6" fill="none">
<line x1="47.50" y1="6.00" x2="47.50" y2="341.50"/>
<line x1="589.50" y1="6.00" x2="589.50" y2="341.50"/>
<line x1="47.00" y1="341.50" x2="590.00" y2="341.50"/>
</g>
<line x1="47.00" y1="6.00" x2="590.00" y2="6.00" stroke="#b4b4b4" stroke-width="1"/>
<path d="M58.15 341.50v-4.60M75.50 341.50v-3.40M92.85 341.50v-3.40M110.20 341.50v-3.40M127.55 341.50v-4.60M144.90 341.50v-3.40M162.25 341.50v-3.40M179.60 341.50v-3.40M196.95 341.50v-4.60M214.30 341.50v-3.40M231.65 341.50v-3.40M249.00 341.50v-3.40M266.35 341.50v-4.60M283.70 341.50v-3.40M301.05 341.50v-3.40M318.40 341.50v-3.40M335.75 341.50v-4.60M353.10 341.50v-3.40M370.45 341.50v-3.40M387.80 341.50v-3.40M405.15 341.50v-4.60M422.50 341.50v-3.40M439.85 341.50v-3.40M457.20 341.50v-3.40M474.55 341.50v-4.60M491.90 341.50v-3.40M509.25 341.50v-3.40M526.60 341.50v-3.40M543.95 341.50v-4.60M561.30 341.50v-3.40M578.65 341.50v-3.40M58.15 6.00v5.60M92.85 6.00v3.90M127.55 6.00v3.90M162.25 6.00v3.90M196.95 6.00v3.90M231.65 6.00v5.60M266.35 6.00v3.90M301.05 6.00v3.90M335.75 6.00v3.90M370.45 6.00v3.90M405.15 6.00v5.60M439.85 6.00v3.90M474.55 6.00v3.90M509.25 6.00v3.90M543.95 6.00v3.90M578.65 6.00v5.60M47.50 330.50h3.40M589.50 330.50h-3.80M47.50 319.50h4.50M589.50 319.50h-3.80M47.50 308.50h3.40M589.50 308.50h-3.80M47.50 297.50h3.40M589.50 297.50h-3.80M47.50 286.50h3.40M589.50 286.50h-5.60M47.50 274.50h4.50M589.50 274.50h-3.80M47.50 263.50h3.40M589.50 263.50h-3.80M47.50 252.50h3.40M589.50 252.50h-3.80M47.50 241.50h3.40M589.50 241.50h-3.80M47.50 230.00h4.50M589.50 230.00h-5.60M47.50 218.50h3.40M589.50 218.50h-3.80M47.50 207.50h3.40M589.50 207.50h-3.80M47.50 196.50h3.40M589.50 196.50h-3.80M47.50 185.50h4.50M589.50 185.50h-3.80M47.50 174.50h3.40M589.50 174.50h-5.60M47.50 162.50h3.40M589.50 162.50h-3.80M47.50 151.50h3.40M589.50 151.50h-3.80M47.50 140.50h4.50M589.50 140.50h-3.80M47.50 129.50h3.40M589.50 129.50h-3.80M47.50 117.50h3.40M589.50 117.50h-5.60M47.50 106.50h3.40M589.50 106.50h-3.80M47.50 95.50h4.50M589.50 95.50h-3.80M47.50 84.50h3.40M589.50 84.50h-3.80M47.50 73.50h3.40M589.50 73.50h-3.80M47.50 61.50h3.40M589.50 61.50h-5.60M47.50 50.50h4.50M589.50 50.50h-3.80M47.50 39.50h3.40M589.50 39.50h-3.80M47.50 28.50h3.40M589.50 28.50h-3.80M47.50 17.50h3.40M589.50 17.50h-3.80" stroke="#4c4c4c" stroke-width="0.6" fill="none"/>
<path d="M47.00 5.84h5M590.00 5.84h-6" stroke="#999" stroke-width="1" fill="none"/>
<g font-size="16.5" text-anchor="middle">
<text x="58.25" y="361.7">0</text>
<text x="127.65" y="361.7">2</text>
<text x="197.05" y="361.7">4</text>
<text x="266.45" y="361.7">6</text>
<text x="335.85" y="361.7">8</text>
<text x="405.25" y="361.7">10</text>
<text x="474.65" y="361.7">12</text>
<text x="544.05" y="361.7">14</text>
</g>
<g font-size="16.5" text-anchor="end">
<text x="43.6" y="326.38">−4</text>
<text x="43.6" y="281.55">−2</text>
<text x="43.6" y="236.71">0</text>
<text x="43.6" y="191.88">2</text>
<text x="43.6" y="147.05">4</text>
<text x="43.6" y="102.21">6</text>
<text x="43.6" y="57.38">8</text>
<text x="43.6" y="12.54">10</text>
</g>
<text x="318.6" y="390.8" font-size="16.5" text-anchor="middle">r</text>
<text transform="translate(12.7 185.4) rotate(-90)" font-size="17.6"><tspan font-style="italic">V</tspan><tspan font-size="13.5" dx="-1.2" dy="2.6">eff</tspan></text>
<text x="72.30" y="82.60" dx="0 0.75 -0.75 0.75 -0.75" dy="0 1 -1 1 -1" font-size="18.6" font-style="italic">r=a=2</text>
<line x1="410.5" y1="38.60" x2="455.8" y2="38.60" stroke="#ff0000" stroke-width="2.1"/>
<text x="467.00" y="42.50" dx="0 0.75 -0.75 0 0 0 0.75 -0.75 0 0 0" dy="0 1 -1 0 0 0 1 -1 0 0 0" font-size="19.1" font-style="italic">a=2, c=0.08</text>
<line x1="410.5" y1="68.90" x2="455.8" y2="68.90" stroke="#800080" stroke-width="3.7" stroke-dasharray="1.3 4.9 5.1 4.7"/>
<text x="467.00" y="72.80" dx="0 0.75 -0.75 0 0 0 0.75 -0.75" dy="0 1 -1 0 0 0 1 -1" font-size="19.1" font-style="italic">a=2, c=0</text>
<line x1="410.5" y1="99.10" x2="455.8" y2="99.10" stroke="#0000ff" stroke-width="2.4" stroke-dasharray="5.6 3.95"/>
<text x="467.00" y="103.00" dx="0 0.75 -0.75 0 0 0 0.75 -0.75 0 0 0" dy="0 1 -1 0 0 0 1 -1 0 0 0" font-size="19.1" font-style="italic">a=0, c=0.08</text>
<line x1="410.5" y1="129.20" x2="455.8" y2="129.20" stroke="#000000" stroke-width="2.9"/>
<text x="467.00" y="133.10" dx="0 0.75 -0.75 0 0 0 0.75 -0.75" dy="0 1 -1 0 0 0 1 -1" font-size="19.1" font-style="italic">a=0, c=0</text>
</svg></body></html>
